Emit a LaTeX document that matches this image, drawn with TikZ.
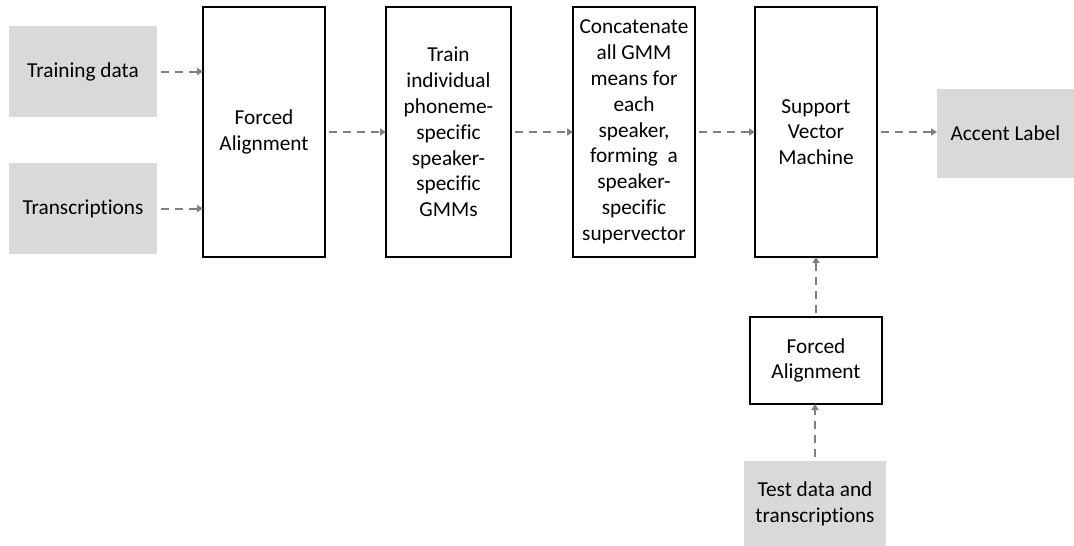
\documentclass[tikz,border=0pt]{standalone}
\usepackage{fontspec}
\setmainfont[Ligatures=NoCommon]{Carlito}
\usetikzlibrary{arrows.meta}
\definecolor{boxgray}{HTML}{D9D9D9}
\definecolor{arrgray}{HTML}{808080}
\begin{document}
\begin{tikzpicture}[x=1pt,y=-1pt,
  every node/.style={font=\fontsize{21.3}{25.8}\selectfont, align=center, inner sep=0pt, outer sep=0pt},
  graybox/.style={fill=boxgray, draw=none},
  procbox/.style={draw=black, line width=1.3pt, fill=white},
  arr/.style={draw=arrgray, line width=2pt, dash pattern=on 8pt off 6pt, -{Triangle[length=6pt,width=7pt]}}
]
\useasboundingbox (0,0) rectangle (1074,546);
\node[graybox, minimum width=148pt, minimum height=91pt] (td) at (83,71.5) {Training data};
\node[graybox, minimum width=148pt, minimum height=91pt] (tr) at (83,208.5) {Transcriptions};
\node[procbox, minimum width=122pt, minimum height=250pt] (fa1) at (264,132) {Forced\\Alignment};
\node[procbox, minimum width=125pt, minimum height=250pt] (gmm) at (448.5,132) {Train\\individual\\phoneme-\\specific\\speaker-\\specific\\GMMs};
\node[procbox, minimum width=122pt, minimum height=250pt] (cat) at (634,132) {Concatenate\\all GMM\\means for\\each\\speaker,\\forming\ \ a\\speaker-\\specific\\supervector};
\node[procbox, minimum width=122pt, minimum height=250pt] (svm) at (816,132) {Support\\Vector\\Machine};
\node[graybox, minimum width=137pt, minimum height=89pt] (acc) at (1005.5,133.5) {Accent Label};
\node[procbox, minimum width=132pt, minimum height=87pt] (fa2) at (816,360.5) {Forced\\Alignment};
\node[graybox, minimum width=142pt, minimum height=86pt] (test) at (815,503.5) {Test data and\\transcriptions};

\draw[arr] ([xshift=4pt]td.east) -- (td.east -| fa1.west);
\draw[arr] ([xshift=4pt]tr.east) -- (tr.east -| fa1.west);
\draw[arr] ([xshift=4pt]fa1.east) -- (fa1.east -| gmm.west);
\draw[arr] ([xshift=4pt]gmm.east) -- (gmm.east -| cat.west);
\draw[arr] ([xshift=4pt]cat.east) -- (cat.east -| svm.west);
\draw[arr] ([xshift=4pt]svm.east) -- (svm.east -| acc.west);
\draw[arr] ([yshift=4pt]fa2.north) -- (fa2.north |- svm.south);
\draw[arr] ([yshift=4pt]test.north) -- (test.north |- fa2.south);
\end{tikzpicture}
\end{document}
